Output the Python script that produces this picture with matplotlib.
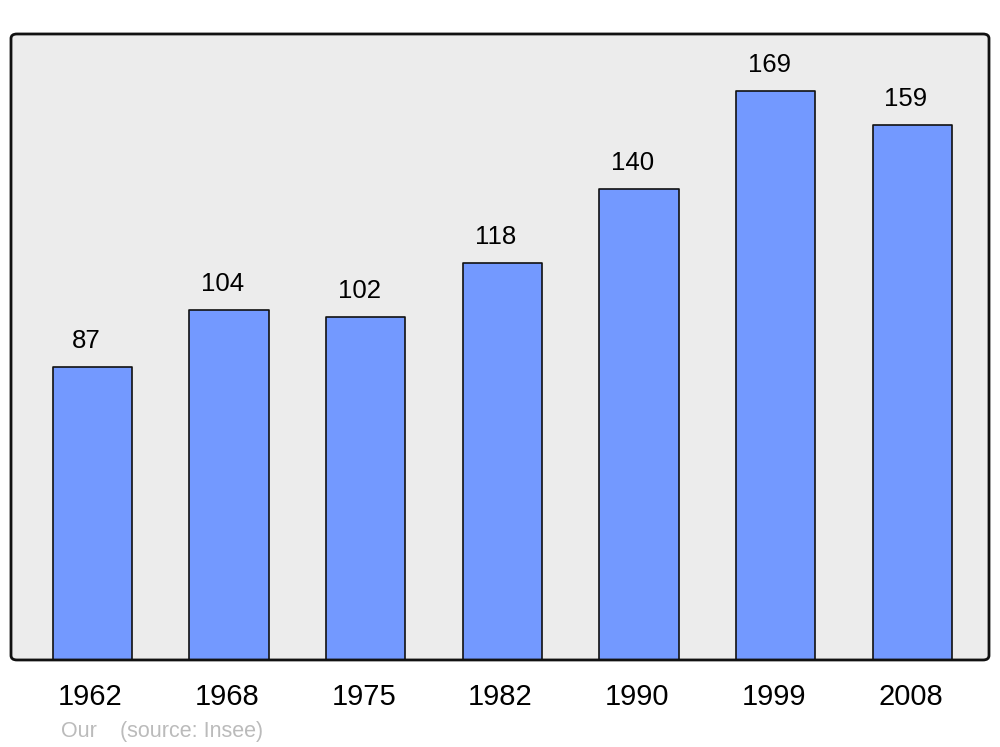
#!/usr/bin/env python3

"""Population bar chart by census year."""

import matplotlib
matplotlib.use('Agg')
import matplotlib.pyplot as plt
from matplotlib.patches import FancyBboxPatch

years = ['1962', '1968', '1975', '1982', '1990', '1999', '2008']
population = [87, 104, 102, 118, 140, 169, 159]

plt.rcParams['font.family'] = ['Liberation Sans', 'DejaVu Sans']

fig = plt.figure(figsize=(10, 7.47), dpi=100)
ax = fig.add_axes([0.011, 0.1165, 0.978, 0.838])
ax.set_facecolor('none')
ax.set_zorder(1)

# Rounded grey panel behind the bars.
panel = FancyBboxPatch((0.011, 0.1165), 0.978, 0.838,
                       boxstyle='round,pad=0,rounding_size=0.006',
                       transform=fig.transFigure, facecolor='#ececec',
                       edgecolor='none', zorder=-1)
fig.patches.append(panel)
# Frame drawn on top so the bars' bottoms sit under it.
frame = FancyBboxPatch((0.011, 0.1165), 0.978, 0.838,
                       boxstyle='round,pad=0,rounding_size=0.006',
                       transform=fig.transFigure, facecolor='none',
                       edgecolor='#111111', linewidth=2.0, zorder=5)
fig.artists.append(frame)

x = list(range(len(years)))
ax.bar(x, population, width=0.58, color='#7399ff', edgecolor='#111111',
       linewidth=1.2, joinstyle='round', zorder=2)

# Value labels sit a little left of the bar centre, as in the original.
for xi, v in zip(x, population):
    ax.annotate(str(v), (xi, v), xytext=(-4.7, 18.8), textcoords='offset points',
                ha='center', va='center', fontsize=18.5)

# Year labels under the panel.
for xi, yr in zip(x, years):
    ax.annotate(yr, (xi, 0), xycoords=('data', 'axes fraction'),
                xytext=(-1.4, -26.3), textcoords='offset points',
                ha='center', va='center', fontsize=21)

ax.set_xlim(-0.595, 6.56)
ax.set_ylim(0, 186)
ax.set_xticks([])
ax.set_yticks([])
for s in ax.spines.values():
    s.set_visible(False)

fig.text(0.061, 0.0134, 'Our', color='#bbbbbb', fontsize=15.5, va='baseline')
fig.text(0.120, 0.0134, '(source: Insee)', color='#bbbbbb', fontsize=15.5,
         va='baseline')

fig.savefig('out.png', dpi=100)
